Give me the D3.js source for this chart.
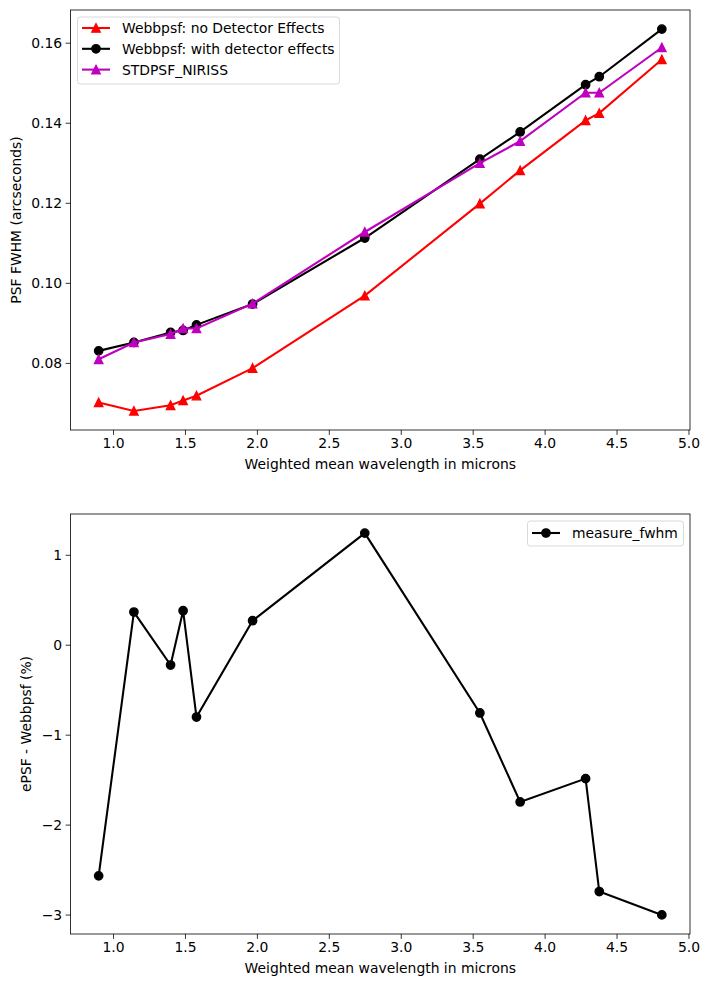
<!DOCTYPE html>
<html><head><meta charset="utf-8">
<script src="https://cdn.jsdelivr.net/npm/d3@7"></script>
<style>body{margin:0;background:#fff}svg text{font-family:"DejaVu Sans",sans-serif}</style>
</head><body><svg id="c" width="709" height="987"></svg>
<script>
const wavelengths = [0.90, 1.145, 1.40, 1.487, 1.58, 1.97, 2.75, 3.55, 3.83, 4.285, 4.38, 4.815];
const noDetector = [0.0701, 0.0680, 0.0694, 0.0706, 0.0718, 0.0787, 0.0968, 0.1198, 0.1281, 0.1406, 0.1424, 0.1558];
const withDetector = [0.0830, 0.0851, 0.0876, 0.0881, 0.0895, 0.0947, 0.1112, 0.1309, 0.1377, 0.1495, 0.1515, 0.1634];
const stdpsf = [0.0809, 0.0851, 0.0872, 0.0886, 0.0886, 0.0948, 0.1127, 0.1299, 0.1354, 0.1475, 0.1475, 0.1588];
const diffPct = [-2.570, 0.363, -0.226, 0.378, -0.804, 0.267, 1.241, -0.759, -1.748, -1.489, -2.744, -3.004];
const xTicks = [1.0, 1.5, 2.0, 2.5, 3.0, 3.5, 4.0, 4.5, 5.0];
const yTicksTop = [0.08, 0.10, 0.12, 0.14, 0.16];
const yTicksBottom = [-3, -2, -1, 0, 1];

const svg = d3.select("#c");
const L = 70.5, R = 690;
const top1 = 10, bot1 = 430, top2 = 514, bot2 = 934;
const fs = 13.9;

function pad(ext, f=0.05){const r=ext[1]-ext[0];return [ext[0]-r*f, ext[1]+r*f];}
const x = d3.scaleLinear().domain(pad(d3.extent(wavelengths))).range([L, R]);
const yTopExt = d3.extent([...noDetector, ...withDetector, ...stdpsf]);
const y1 = d3.scaleLinear().domain(pad(yTopExt)).range([bot1, top1]);
const y2 = d3.scaleLinear().domain(pad(d3.extent(diffPct))).range([bot2, top2]);

function fmtMinus(s){return s.replace("-", "\u2212");}

function axes(y, top, bot, yTicks, yfmt, ylabel, ylabelX){
  const g = svg.append("g");
  const xa = g.append("g").attr("transform", `translate(0,${bot})`)
    .call(d3.axisBottom(x).tickValues(xTicks).tickFormat(d3.format(".1f")).tickSize(4.9).tickPadding(3.5));
  const ya = g.append("g").attr("transform", `translate(${L},0)`)
    .call(d3.axisLeft(y).tickValues(yTicks).tickFormat(d=>fmtMinus(yfmt(d))).tickSize(4.9).tickPadding(3.5));
  [xa, ya].forEach(a=>{
    a.select(".domain").remove();
    a.selectAll(".tick line").attr("stroke","#000").attr("stroke-width",0.8);
    a.selectAll(".tick text").attr("font-size",fs).attr("fill","#000").attr("font-family","DejaVu Sans");
  });
  g.append("text").attr("x",(L+R)/2).attr("y",bot+39).attr("text-anchor","middle")
    .attr("font-size",fs).text("Weighted mean wavelength in microns");
  g.append("text").attr("transform",`translate(${ylabelX},${(top+bot)/2}) rotate(-90)`)
    .attr("text-anchor","middle").attr("font-size",fs).text(ylabel);
  return g;
}

function frame(top, bot){
  svg.append("rect").attr("x",L).attr("y",top).attr("width",R-L).attr("height",bot-top)
    .attr("fill","none").attr("stroke","#000").attr("stroke-width",0.8);
}

const tri = d3.symbol().type(d3.symbolTriangle);
function triPath(s){ // matplotlib-style triangle: half size s
  return `M0,${-s}L${s},${s}L${-s},${s}Z`;
}

function series(g, y, vals, color, marker){
  const line = d3.line().x((d,i)=>x(wavelengths[i])).y(d=>y(d));
  g.append("path").datum(vals).attr("d", line).attr("fill","none").attr("stroke",color).attr("stroke-width",2.08);
  vals.forEach((v,i)=>{
    if(marker==="o"){
      g.append("circle").attr("cx",x(wavelengths[i])).attr("cy",y(v)).attr("r",4.17)
        .attr("fill",color).attr("stroke",color).attr("stroke-width",1.39);
    } else {
      g.append("path").attr("transform",`translate(${x(wavelengths[i])},${y(v)})`).attr("d",triPath(4.17))
        .attr("fill",color).attr("stroke",color).attr("stroke-width",1.39).attr("stroke-linejoin","miter");
    }
  });
}

function legendHandle(g, cx, cy, color, marker){
  g.append("line").attr("x1",cx-14).attr("x2",cx+14).attr("y1",cy).attr("y2",cy).attr("stroke",color).attr("stroke-width",2.08);
  if(marker==="o") g.append("circle").attr("cx",cx).attr("cy",cy).attr("r",4.17).attr("fill",color).attr("stroke",color).attr("stroke-width",1.39);
  else g.append("path").attr("transform",`translate(${cx},${cy})`).attr("d",triPath(4.17)).attr("fill",color).attr("stroke",color).attr("stroke-width",1.39);
}

// Top plot
const g1 = axes(y1, top1, bot1, yTicksTop, d3.format(".2f"), "PSF FWHM (arcseconds)", 21);
const p1 = svg.append("g");
series(p1, y1, noDetector, "#ff0000", "^");
series(p1, y1, withDetector, "#000000", "o");
series(p1, y1, stdpsf, "#bf00bf", "^");
frame(top1, bot1);
const lg1 = svg.append("g");
lg1.append("rect").attr("x",77.5).attr("y",17).attr("width",262).attr("height",67).attr("rx",2.8)
  .attr("fill","#fff").attr("fill-opacity",0.8).attr("stroke","#d9d9d9").attr("stroke-width",1);
const legItems = [["Webbpsf: no Detector Effects","#ff0000","^"],["Webbpsf: with detector effects","#000000","o"],["STDPSF_NIRISS","#bf00bf","^"]];
legItems.forEach((it,i)=>{
  const cy = 28 + i*20.8;
  legendHandle(lg1, 96, cy, it[1], it[2]);
  lg1.append("text").attr("x",122).attr("y",cy+5).attr("font-size",fs).text(it[0]);
});

// Bottom plot
const g2 = axes(y2, top2, bot2, yTicksBottom, d3.format("d"), "ePSF - Webbpsf (%)", 31);
const p2 = svg.append("g");
series(p2, y2, diffPct, "#000000", "o");
frame(top2, bot2);
const lg2 = svg.append("g");
lg2.append("rect").attr("x",527.5).attr("y",521).attr("width",156).attr("height",25).attr("rx",2.8)
  .attr("fill","#fff").attr("fill-opacity",0.8).attr("stroke","#d9d9d9").attr("stroke-width",1);
legendHandle(lg2, 546, 533, "#000000", "o");
lg2.append("text").attr("x",572).attr("y",538).attr("font-size",fs).text("measure_fwhm");
</script></body></html>
